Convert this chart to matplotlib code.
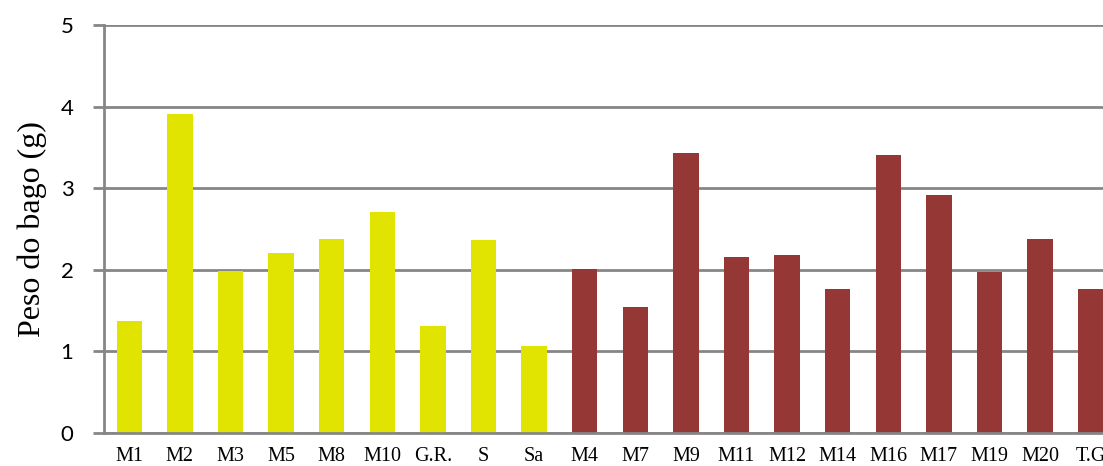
import matplotlib.pyplot as plt

# sample names and berry weight (g)
names = ['M1', 'M2', 'M3', 'M5', 'M8', 'M10', 'G.R.', 'S', 'Sa',
         'M4', 'M7', 'M9', 'M11', 'M12', 'M14', 'M16', 'M17', 'M19', 'M20', 'T.G']
peso = [1.37, 3.91, 1.99, 2.20, 2.38, 2.71, 1.31, 2.37, 1.07,
        2.01, 1.54, 3.43, 2.16, 2.18, 1.76, 3.41, 2.92, 1.97, 2.38, 1.76]
grupo = ['a'] * 9 + ['b'] * 11
cores = {'a': '#E1E400', 'b': '#953735'}

fig = plt.figure(figsize=(11.03, 4.66), dpi=100)
ax = fig.add_axes([104 / 1103, 1 - 433 / 466, (1116 - 104) / 1103, (433 - 25) / 466])

x = list(range(len(names)))
ax.bar(x, peso, width=0.5, color=[cores[g] for g in grupo], zorder=3)

ax.set_xlim(-0.5, len(names) - 0.5)
ax.set_ylim(0, 5)
ax.set_yticks([0, 1, 2, 3, 4, 5])
ax.yaxis.grid(True, color='#868686', linewidth=2, zorder=0)

ax.set_xticks(x)
ax.set_xticklabels(names, fontfamily='Liberation Serif', fontsize=14.5)
ax.tick_params(axis='x', length=0, pad=10)
ax.tick_params(axis='y', length=8, width=2, color='#868686', labelsize=16, pad=14)
for lab in ax.get_yticklabels():
    lab.set_fontfamily('Lato')

for s in ['top', 'right']:
    ax.spines[s].set_visible(False)
for s in ['left', 'bottom']:
    ax.spines[s].set_color('#868686')
    ax.spines[s].set_linewidth(2)
    ax.spines[s].set_zorder(4)

ax.set_ylabel('Peso do bago (g)', fontfamily='Liberation Serif', fontsize=23, labelpad=10)

fig.savefig('out.png', dpi=100)
